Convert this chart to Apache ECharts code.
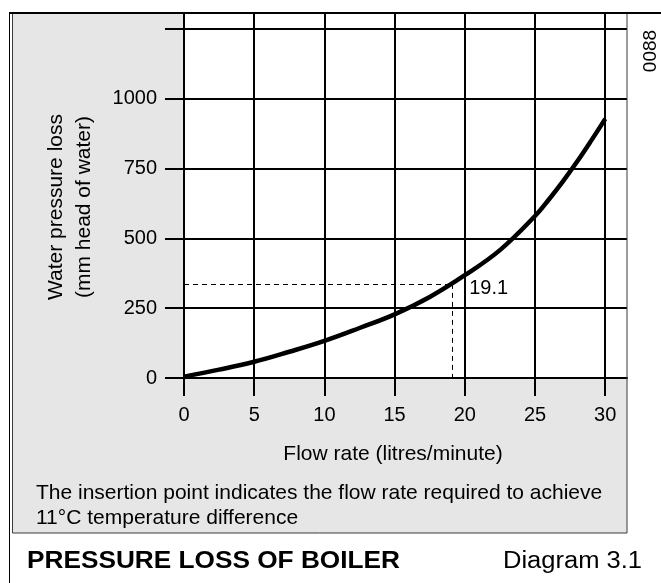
<!DOCTYPE html>
<html>
<head>
<meta charset="utf-8">
<title>Pressure loss of boiler</title>
<script src="https://cdn.jsdelivr.net/npm/echarts@6/dist/echarts.min.js"></script>
<style>
  html, body { margin: 0; padding: 0; background: #fff; }
  #myChart { width: 661px; height: 583px; }
</style>
</head>
<body>
<div id="myChart"></div>
<script>
// curve (flow l/min -> loss mm head of water)
const flowRate = [0, 2.5, 5, 7.5, 10, 12.5, 15, 17.5, 20, 22.5, 25, 26, 27, 28, 29, 30];
const pressureLoss = [5, 30, 58, 94, 133, 179, 228, 290, 368, 458, 580, 640, 705, 775, 850, 928];
const xTicks = [0, 5, 10, 15, 20, 25, 30];
const yTicks = [0, 250, 500, 750, 1000, 1250];
const yLabels = [0, 250, 500, 750, 1000];
const insertFlow = 19.1;
const insertLoss = 337;

const FONT = '"Liberation Sans", Arial, Helvetica, sans-serif';

const myChart = echarts.init(document.getElementById('myChart'));
window.addEventListener('resize', function () {
  myChart.resize();
});

function txt (text, x, y, opts) {
  const o = opts || {};
  return {
    type: 'text',
    x: x,
    y: y,
    z: 20,
    rotation: o.rotation || 0,
    scaleX: o.scaleX || 1,
    silent: true,
    style: {
      text: text,
      fill: '#000',
      fontFamily: FONT,
      fontSize: o.size || 20,
      fontWeight: o.weight || 'normal',
      lineHeight: o.lineHeight,
      align: o.align || 'left',
      textAlign: o.align || 'left',
      verticalAlign: 'middle',
      textVerticalAlign: 'middle'
    }
  };
}

myChart.setOption({
  animation: false,
  backgroundColor: '#fff',
  grid: {
    left: 184,
    top: 13,
    width: 443,
    height: 365,
    show: true,
    backgroundColor: '#fff',
    borderWidth: 0,
    containLabel: false,
    outerBoundsMode: 'none'
  },
  xAxis: {
    type: 'value',
    min: 0,
    max: 31.55,
    interval: 5,
    axisLine: { show: true, lineStyle: { color: '#000', width: 2 } },
    axisTick: {
      show: true,
      customValues: xTicks,
      length: 18,
      lineStyle: { color: '#000', width: 2 }
    },
    axisLabel: {
      customValues: xTicks,
      formatter: v => String(v),
      margin: 27,
      color: '#000',
      fontFamily: FONT,
      fontSize: 20
    },
    splitLine: { show: true, lineStyle: { color: '#000', width: 2 } }
  },
  yAxis: {
    type: 'value',
    min: 0,
    max: 1307,
    interval: 250,
    axisLine: { show: true, lineStyle: { color: '#000', width: 2 } },
    axisTick: {
      show: true,
      customValues: yTicks,
      length: 19,
      lineStyle: { color: '#000', width: 2 }
    },
    axisLabel: {
      customValues: yLabels,
      formatter: v => String(v),
      margin: 27,
      color: '#000',
      fontFamily: FONT,
      fontSize: 20
    },
    splitLine: { show: true, lineStyle: { color: '#000', width: 2 } }
  },
  series: [
    {
      type: 'line',
      data: flowRate.map((f, i) => [f, pressureLoss[i]]),
      smooth: 0.4,
      showSymbol: false,
      z: 5,
      lineStyle: { color: '#000', width: 4.5 },
      markLine: {
        silent: true,
        symbol: ['none', 'none'],
        label: { show: false },
        lineStyle: { color: '#000', width: 1, type: [5, 4] },
        data: [
          [{ coord: [0, insertLoss] }, { coord: [insertFlow, insertLoss] }],
          [{ coord: [insertFlow, insertLoss] }, { coord: [insertFlow, 0] }]
        ]
      },
      markPoint: {
        silent: true,
        symbol: 'circle',
        symbolSize: 0,
        data: [{ coord: [insertFlow, insertLoss] }],
        label: {
          show: true,
          formatter: String(insertFlow),
          position: 'right',
          distance: 17,
          offset: [0, 5],
          color: '#000',
          fontFamily: FONT,
          fontSize: 20
        }
      }
    }
  ],
  graphic: [
    // grey panel behind the plot
    {
      type: 'rect',
      z: -10,
      silent: true,
      shape: { x: 12, y: 13, width: 615, height: 520 },
      style: { fill: '#e6e6e6' }
    },
    {
      type: 'rect',
      z: 10,
      silent: true,
      shape: { x: 12.5, y: 13, width: 614.5, height: 520 },
      style: { fill: 'none', stroke: '#3a3a3a', lineWidth: 1 }
    },
    // outer frame
    {
      type: 'line',
      z: 12,
      silent: true,
      shape: { x1: 9.5, y1: 13, x2: 9.5, y2: 583 },
      style: { stroke: '#000', lineWidth: 1 }
    },
    {
      type: 'line',
      z: 12,
      silent: true,
      shape: { x1: 9, y1: 13, x2: 661, y2: 13 },
      style: { stroke: '#000', lineWidth: 2 }
    },
    txt('Water pressure loss\n(mm head of water)', 70, 207, {
      rotation: Math.PI / 2, align: 'center', size: 21, lineHeight: 28
    }),
    txt('Flow rate (litres/minute)', 393, 454, { align: 'center', size: 21 }),
    txt('The insertion point indicates the flow rate required to achieve', 36, 493, { size: 21 }),
    txt('11°C temperature difference', 36, 518.5, { size: 21 }),
    txt('PRESSURE LOSS OF BOILER', 27, 562, { size: 23, weight: 'bold', scaleX: 1.14 }),
    txt('Diagram 3.1', 503, 562, { size: 23, scaleX: 1.11 }),
    txt('0088', 651, 51, { rotation: Math.PI / 2, align: 'center', size: 19 })
  ]
});
</script>
</body>
</html>
